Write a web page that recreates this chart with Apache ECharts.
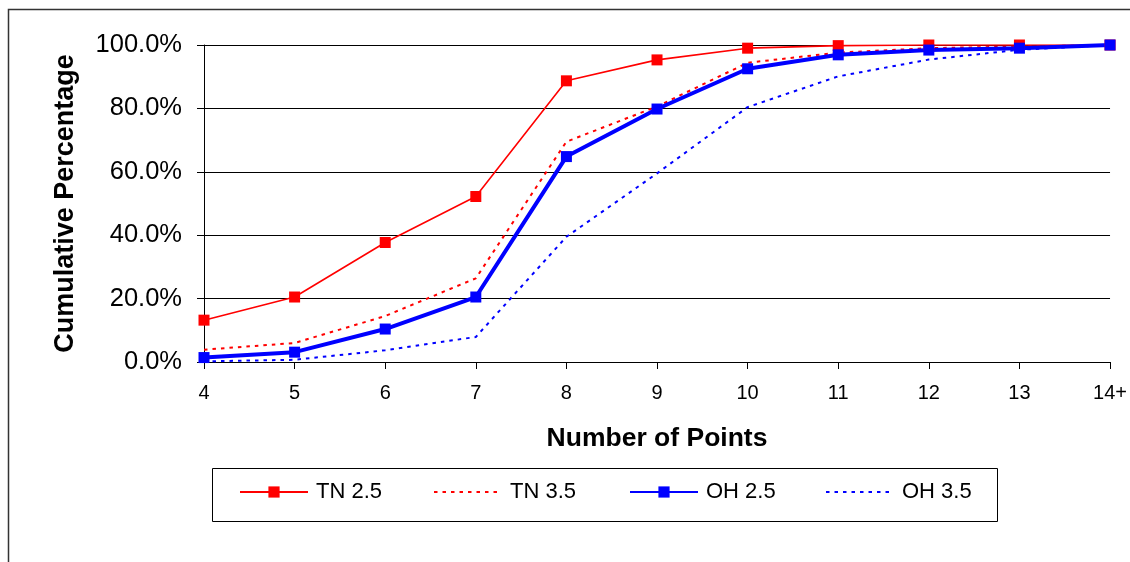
<!DOCTYPE html>
<html>
<head>
<meta charset="utf-8">
<script src="https://cdn.jsdelivr.net/npm/echarts@6/dist/echarts.min.js"></script>
<style>
html,body{margin:0;padding:0;background:#fff;}
#chart{width:1130px;height:562px;}
</style>
</head>
<body>
<div id="chart"></div>
<script>
var categories = ['4','5','6','7','8','9','10','11','12','13','14+'];
var seriesNames = ['TN 2.5','TN 3.5','OH 2.5','OH 3.5'];
var tn25 = [13.2, 20.5, 37.7, 52.2, 88.7, 95.3, 99.0, 99.8, 100, 100, 100];
var tn35 = [3.9, 6.0, 14.5, 26.4, 69.5, 80.6, 94.4, 97.6, 99.0, 99.5, 100];
var oh25 = [1.4, 3.1, 10.4, 20.5, 64.8, 79.8, 92.5, 96.9, 98.4, 99.0, 100];
var oh35 = [0.2, 0.7, 3.7, 7.9, 39.5, 59.5, 80.4, 90.1, 95.4, 98.5, 100];
var yTicks = [0, 20, 40, 60, 80, 100];

var FONT = 'Liberation Sans, Arial, sans-serif';
var chart = echarts.init(document.getElementById('chart'), null, {renderer:'canvas'});

var legLeft = [239, 433, 629, 825];
function mkLegend(i, hideSymbol) {
  var item = { name: seriesNames[i] };
  if (hideSymbol) item.itemStyle = { opacity: 0 };
  return {
    data: [item],
    left: legLeft[i],
    top: 481,
    orient: 'horizontal',
    padding: 0,
    itemWidth: 68,
    itemHeight: 14,
    selectedMode: false,
    textStyle: { fontSize: 22, fontFamily: FONT, color: '#000', padding: [0, 0, 0, 3] }
  };
}

var option = {
  backgroundColor: '#fff',
  animation: false,
  grid: { left: 204, right: 19, top: 45, bottom: 200, containLabel: false },
  legend: [mkLegend(0, false), mkLegend(1, true), mkLegend(2, false), mkLegend(3, true)],
  graphic: [
    { type: 'rect', silent: true, z: -1,
      shape: { x: 8.5, y: 9.5, width: 1200, height: 700 },
      style: { fill: 'none', stroke: '#333', lineWidth: 1.5 } },
    { type: 'rect', silent: true,
      shape: { x: 212.5, y: 468.5, width: 785, height: 53 },
      style: { fill: 'none', stroke: '#000', lineWidth: 1 } }
  ],
  xAxis: {
    type: 'category',
    data: categories,
    boundaryGap: false,
    name: 'Number of Points',
    nameLocation: 'middle',
    nameGap: 63,
    nameTextStyle: { fontSize: 26.5, fontWeight: 'bold', fontFamily: FONT, color: '#000' },
    axisLine: { lineStyle: { color: '#000', width: 1 } },
    axisTick: { show: true, inside: false, length: 7, alignWithLabel: true, lineStyle: { color: '#000' } },
    axisLabel: { fontSize: 20, fontFamily: FONT, color: '#000', margin: 21, interval: 0 },
    splitLine: { show: false }
  },
  yAxis: {
    type: 'value',
    min: yTicks[0],
    max: yTicks[yTicks.length - 1],
    interval: 20,
    name: 'Cumulative Percentage',
    nameLocation: 'middle',
    nameGap: 125,
    nameTextStyle: { fontSize: 27, fontWeight: 'bold', fontFamily: FONT, color: '#000' },
    axisLine: { show: true, lineStyle: { color: '#000', width: 1 } },
    axisTick: { show: true, inside: false, length: 7, lineStyle: { color: '#000' } },
    axisLabel: { fontSize: 25.5, fontFamily: FONT, color: '#000', margin: 22,
      formatter: function (v) { return v.toFixed(1) + '%'; } },
    splitLine: { show: true, lineStyle: { color: '#000', width: 1 } }
  },
  series: [
    { name: seriesNames[0], type: 'line', data: tn25, symbol: 'rect', symbolSize: 11,
      itemStyle: { color: '#FF0000' }, lineStyle: { color: '#FF0000', width: 1.6 } },
    { name: seriesNames[1], type: 'line', data: tn35, symbol: 'none',
      itemStyle: { color: '#FF0000' }, lineStyle: { color: '#FF0000', width: 2, type: [3.5, 5] } },
    { name: seriesNames[2], type: 'line', data: oh25, symbol: 'rect', symbolSize: 11,
      itemStyle: { color: '#0000FF' }, lineStyle: { color: '#0000FF', width: 4 } },
    { name: seriesNames[3], type: 'line', data: oh35, symbol: 'none',
      itemStyle: { color: '#0000FF' }, lineStyle: { color: '#0000FF', width: 2, type: [3.5, 5] } }
  ]
};
chart.setOption(option);
</script>
</body>
</html>
